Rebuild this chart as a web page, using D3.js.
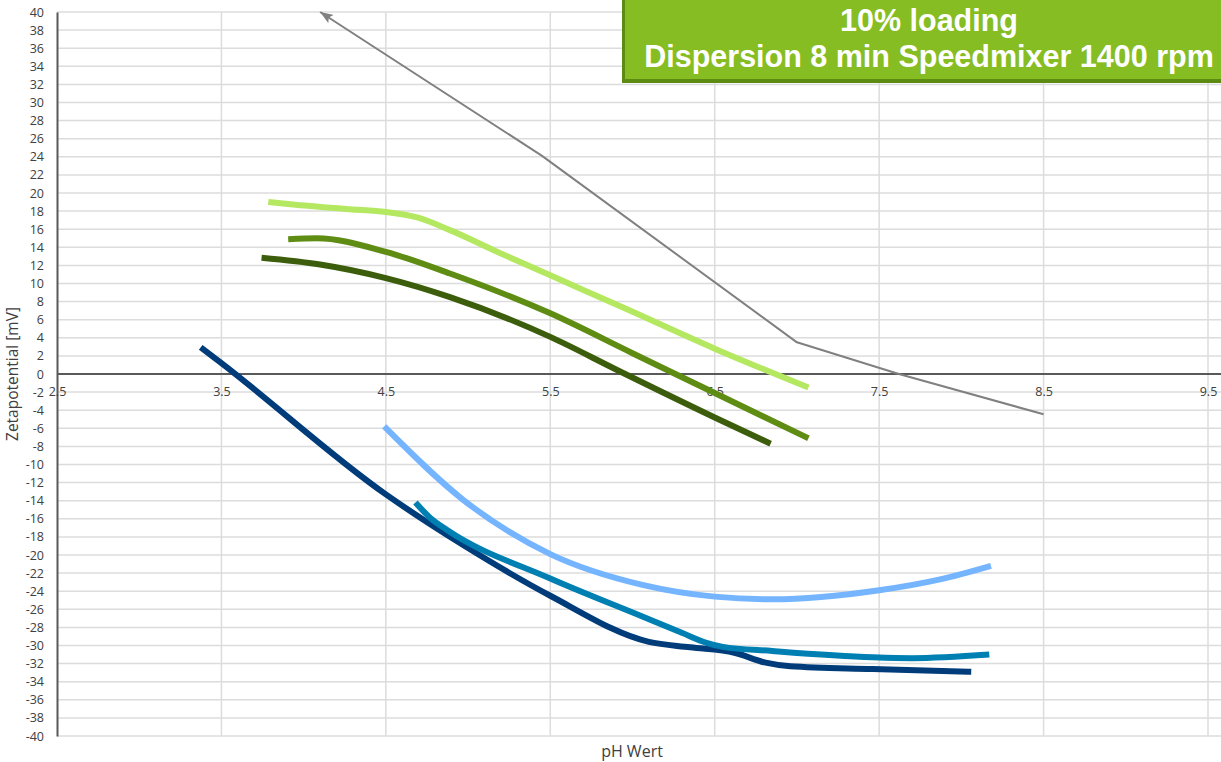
<!DOCTYPE html>
<html>
<head>
<meta charset="utf-8">
<script src="https://cdn.jsdelivr.net/npm/d3@7/dist/d3.min.js"></script>
<style>
  html, body { margin: 0; padding: 0; background: #ffffff; }
  svg { display: block; }
</style>
</head>
<body>
<svg id="chart" width="1221" height="762"></svg>
<script>
// ---- data ----
const titleLines = ["10% loading", "Dispersion 8 min Speedmixer 1400 rpm"];
const xAxisTitle = "pH Wert";
const yAxisTitle = "Zetapotential [mV]";
const xTickValues = [2.5, 3.5, 4.5, 5.5, 6.5, 7.5, 8.5, 9.5];
const xTickLabels = ["2.5", "3.5", "4.5", "5.5", "6.5", "7.5", "8.5", "9.5"];
const yTickValues = d3.range(-40, 41, 2);
const yTickLabels = yTickValues.map(v => String(v));

const seriesNames = ["reference", "lightGreen", "midGreen", "darkGreen", "navy", "teal", "lightBlue"];

const referencePH   = [4.1, 5.45, 7.0, 7.62, 8.5];
const referenceZeta = [40, 24.1, 3.5, 0.0, -4.45];

const lightGreenPH   = [3.785, 3.95, 4.28, 4.5, 4.69, 4.89, 5.19, 5.5, 5.96, 6.5, 7.07];
const lightGreenZeta = [19.0, 18.7, 18.2, 17.9, 17.3, 15.9, 13.4, 10.9, 7.2, 2.8, -1.5];

const midGreenPH   = [3.906, 4.08, 4.5, 4.89, 5.5, 6.0, 6.5, 7.07];
const midGreenZeta = [14.9, 15.0, 13.5, 11.1, 6.7, 2.3, -2.1, -7.1];

const darkGreenPH   = [3.744, 4.1, 4.5, 4.89, 5.5, 5.9, 6.5, 6.84];
const darkGreenZeta = [12.85, 12.1, 10.6, 8.5, 4.1, 0.5, -4.8, -7.7];

const navyPH   = [3.374, 3.5, 4.5, 4.97, 5.5, 6.1, 6.35, 6.62, 6.81, 6.96, 7.46, 8.06];
const navyZeta = [2.95, 1.2, -13.3, -18.9, -24.5, -29.6, -30.2, -30.8, -31.9, -32.3, -32.6, -32.9];

const tealPH   = [4.68, 4.77, 4.87, 5.5, 6.06, 6.3, 6.45, 6.55, 6.85, 7.46, 7.7, 8.17];
const tealZeta = [-14.2, -15.9, -17.2, -22.6, -26.8, -28.6, -29.7, -30.15, -30.6, -31.3, -31.4, -31.0];

const lightBluePH   = [4.49, 4.97, 5.5, 6.06, 6.5, 6.85, 7.5, 7.87, 8.18];
const lightBlueZeta = [-5.8, -13.9, -19.9, -23.3, -24.6, -24.9, -23.9, -22.7, -21.2];

// ---- layout / styles ----
const W = 1221, H = 762;
const svg = d3.select("#chart");
const x = d3.scaleLinear().domain([2.5, 9.5]).range([57, 1208]);
const y = d3.scaleLinear().domain([-40, 40]).range([736, 12]);

const smooth = d3.curveMonotoneX;
const styles = {
  reference:  { color: "#808080", width: 2, curve: d3.curveLinear },
  lightGreen: { color: "#b5e861", width: 6, curve: smooth },
  midGreen:   { color: "#5f8d14", width: 6, curve: smooth },
  darkGreen:  { color: "#3c5e0c", width: 6, curve: smooth },
  navy:       { color: "#003b7a", width: 6, curve: smooth },
  teal:       { color: "#0080b2", width: 6, curve: smooth },
  lightBlue:  { color: "#75b5ff", width: 6, curve: smooth }
};

const seriesData = {
  reference:  d3.zip(referencePH, referenceZeta),
  lightGreen: d3.zip(lightGreenPH, lightGreenZeta),
  midGreen:   d3.zip(midGreenPH, midGreenZeta),
  darkGreen:  d3.zip(darkGreenPH, darkGreenZeta),
  navy:       d3.zip(navyPH, navyZeta),
  teal:       d3.zip(tealPH, tealZeta),
  lightBlue:  d3.zip(lightBluePH, lightBlueZeta)
};

// defs: arrow marker (tip at +x end, reversed at path start)
svg.append("defs").append("marker")
  .attr("id", "arrow")
  .attr("viewBox", "0 0 12 9")
  .attr("refX", 12).attr("refY", 4.5)
  .attr("markerWidth", 6.5).attr("markerHeight", 4.9)
  .attr("markerUnits", "strokeWidth")
  .attr("orient", "auto-start-reverse")
  .append("path")
  .attr("d", "M0,0 L12,4.5 L0,9 L2.5,4.5 Z")
  .attr("fill", "#808080");

// gridlines
const grid = svg.append("g");
grid.selectAll("line.h").data(yTickValues).join("line")
  .attr("x1", x(2.5)).attr("x2", W)
  .attr("y1", d => y(d)).attr("y2", d => y(d))
  .attr("stroke", "#dcdcdc").attr("stroke-width", 1.5);
grid.selectAll("line.v").data(xTickValues.slice(1)).join("line")
  .attr("x1", d => x(d)).attr("x2", d => x(d))
  .attr("y1", y(40)).attr("y2", y(-40))
  .attr("stroke", "#dcdcdc").attr("stroke-width", 1.5);

// y axis
const yAxis = d3.axisLeft(y).tickValues(yTickValues).tickSize(0).tickPadding(13)
  .tickFormat((d, i) => yTickLabels[i]);
const gy = svg.append("g").attr("transform", `translate(${x(2.5)},0)`).call(yAxis);
gy.select(".domain").attr("stroke", "#595959").attr("stroke-width", 2);
gy.selectAll("text").attr("font-family", "'Open Sans', sans-serif").attr("font-size", 12.5).attr("fill", "#404040");

// x axis along zero
const xAxis = d3.axisBottom(x).tickValues(xTickValues).tickSize(0).tickPadding(13)
  .tickFormat((d, i) => xTickLabels[i]);
const gx = svg.append("g").attr("transform", `translate(0,${y(0)})`).call(xAxis);
gx.select(".domain").remove();
gx.selectAll("text").attr("font-family", "'Open Sans', sans-serif").attr("font-size", 12.5).attr("fill", "#404040");
svg.append("line")
  .attr("x1", x(2.5)).attr("x2", W).attr("y1", y(0)).attr("y2", y(0))
  .attr("stroke", "#595959").attr("stroke-width", 2);

// axis titles
svg.append("text")
  .attr("transform", `translate(18,${y(0)}) rotate(-90)`)
  .attr("text-anchor", "middle")
  .attr("font-family", "'Open Sans', sans-serif").attr("font-size", 15.5).attr("fill", "#404040")
  .text(yAxisTitle);
svg.append("text")
  .attr("x", 632).attr("y", 757)
  .attr("text-anchor", "middle")
  .attr("font-family", "'Open Sans', sans-serif").attr("font-size", 16).attr("fill", "#404040")
  .text(xAxisTitle);

// series
const lineGen = c => d3.line().x(d => x(d[0])).y(d => y(d[1])).curve(c);
const drawOrder = ["reference", "lightGreen", "midGreen", "darkGreen", "lightBlue", "navy", "teal"];
const gs = svg.append("g");
drawOrder.forEach(name => {
  const st = styles[name];
  const p = gs.append("path")
    .datum(seriesData[name])
    .attr("fill", "none")
    .attr("stroke", st.color)
    .attr("stroke-width", st.width)
    .attr("stroke-linejoin", "round")
    .attr("stroke-linecap", "butt")
    .attr("d", lineGen(st.curve));
  if (name === "reference") p.attr("marker-start", "url(#arrow)");
});

// title box
const tb = svg.append("g");
tb.append("rect").attr("x", 622).attr("y", 0).attr("width", W - 622).attr("height", 83).attr("fill", "#5d8a12");
tb.append("rect").attr("x", 625).attr("y", 0).attr("width", W - 625).attr("height", 79).attr("fill", "#86bd22");
tb.selectAll("text").data(titleLines).join("text")
  .attr("x", 929)
  .attr("y", (d, i) => i === 0 ? 31 : 67)
  .attr("text-anchor", "middle")
  .attr("font-family", "'Liberation Sans', Arial, sans-serif")
  .attr("font-weight", "bold")
  .attr("font-size", 30.5)
  .attr("fill", "#ffffff")
  .text(d => d);
</script>
</body>
</html>
